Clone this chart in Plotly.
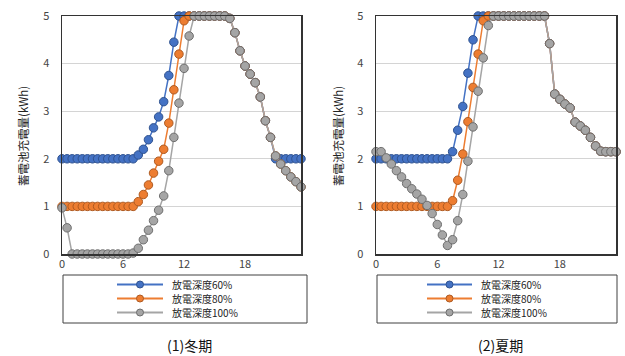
import plotly.graph_objects as go

W, H = 625, 356

hours = [i * 0.5 for i in range(48)]
x_ticks = [0, 6, 12, 18]
y_ticks = [0, 1, 2, 3, 4, 5]
series_names = ["放電深度60%", "放電深度80%", "放電深度100%"]
panel_titles = ["(1)冬期", "(2)夏期"]
y_title = "蓄電池充電量(kWh)"

# shared evening discharge paths (17:00 - 23:30)
winter_decline = [4.65, 4.27, 3.95, 3.78, 3.60, 3.30, 2.80, 2.45, 2.06, 1.89, 1.75, 1.62, 1.52, 1.41]
summer_decline = [4.42, 3.36, 3.25, 3.15, 3.07, 2.77, 2.69, 2.60, 2.45, 2.27, 2.16, 2.15, 2.15, 2.15]

winter_60 = ([2.0] * 15 + [2.08, 2.2, 2.4, 2.65, 2.88, 3.2, 3.75, 4.45]
             + [5.0] * 10 + [4.95]
             + [4.65, 4.27, 3.95, 3.78, 3.60, 3.30, 2.80, 2.45, 2.0, 2.0, 2.0, 2.0, 2.0, 2.0])
winter_80 = ([1.0] * 15 + [1.1, 1.25, 1.45, 1.7, 1.95, 2.2, 2.75, 3.45, 4.2, 4.9]
             + [5.0] * 8 + [4.95] + winter_decline)
winter_100 = ([0.97, 0.55] + [0.0] * 12
              + [0.02, 0.12, 0.3, 0.5, 0.7, 0.92, 1.22, 1.75, 2.45, 3.17, 3.9, 4.58]
              + [5.0] * 7 + [4.95] + winter_decline)

summer_60 = ([2.0] * 15 + [2.15, 2.6, 3.1, 3.8, 4.5]
             + [5.0] * 14 + summer_decline)
summer_80 = ([1.0] * 15 + [1.12, 1.55, 2.1, 2.78, 3.5, 4.2, 4.9]
             + [5.0] * 12 + summer_decline)
summer_100 = ([2.15, 2.15, 2.02, 1.89, 1.75, 1.62, 1.48, 1.37, 1.26, 1.15, 1.02, 0.85, 0.62, 0.40, 0.18]
              + [0.3, 0.7, 1.25, 1.95, 2.67, 3.42, 4.12, 4.8]
              + [5.0] * 11 + summer_decline)

fills = ["#4472C4", "#ED7D31", "#A5A5A5"]
edges = ["#2F528F", "#AE5A21", "#6E6E6E"]

FONT = "Noto Sans CJK JP"


def px_x(p):
    return p / W


def px_y(p):
    return 1 - p / H


fig = go.Figure()

panels = [
    ([winter_60, winter_80, winter_100], "x", "y"),
    ([summer_60, summer_80, summer_100], "x2", "y2"),
]
for data, xa, ya in panels:
    for k, vals in enumerate(data):
        fig.add_trace(go.Scatter(
            x=hours, y=vals, mode="lines+markers", name=series_names[k],
            xaxis=xa, yaxis=ya, cliponaxis=False, showlegend=False,
            line=dict(color=fills[k], width=1.5),
            marker=dict(size=8.5, color=fills[k], line=dict(color=edges[k], width=1)),
        ))

axis_common_x = dict(range=[0, 23.5], tickvals=x_ticks, showgrid=False, zeroline=False,
                     showline=True, mirror=True, linecolor="#333333", linewidth=1.5,
                     ticks="", ticklabelstandoff=-1,
                     tickfont=dict(family=FONT, size=11, color="#444444"),
                     automargin=False, fixedrange=True)
axis_common_y = dict(range=[0, 5], tickvals=y_ticks, showgrid=True, gridcolor="#D4D4D4", gridwidth=1,
                     zeroline=False, showline=True, mirror=True, linecolor="#333333", linewidth=1.5,
                     ticks="", ticklabelstandoff=9,
                     tickfont=dict(family=FONT, size=11, color="#444444"),
                     automargin=False, fixedrange=True)

y_dom = [px_y(254), px_y(16)]
fig.update_layout(
    width=W, height=H,
    margin=dict(l=0, r=0, t=0, b=0),
    paper_bgcolor="white", plot_bgcolor="white",
    font=dict(family=FONT, size=10, color="#222222"),
    xaxis=dict(domain=[px_x(62), px_x(301)], anchor="y", **axis_common_x),
    yaxis=dict(domain=y_dom, anchor="x", **axis_common_y),
    xaxis2=dict(domain=[px_x(376), px_x(616)], anchor="y2", **axis_common_x),
    yaxis2=dict(domain=y_dom, anchor="x2", **axis_common_y),
    showlegend=False,
    hovermode=False,
)

# legend boxes (frames with line+marker keys and labels)
legend_specs = [
    (63, 307, 117, 163, 171),
    (377, 617, 427, 472, 480),
]
row_y = [284.5, 298.5, 312.5]
for bx0, bx1, lx0, lx1, tx in legend_specs:
    fig.add_shape(type="rect", xref="paper", yref="paper",
                  x0=px_x(bx0), x1=px_x(bx1), y0=px_y(323), y1=px_y(275),
                  line=dict(color="#404040", width=1), fillcolor="rgba(0,0,0,0)")
    for k in range(3):
        yy = px_y(row_y[k])
        fig.add_shape(type="line", xref="paper", yref="paper",
                      x0=px_x(lx0), x1=px_x(lx1), y0=yy, y1=yy,
                      line=dict(color=fills[k], width=2))
        cx = (lx0 + lx1) / 2
        r = 3.5
        fig.add_shape(type="circle", xref="paper", yref="paper",
                      x0=px_x(cx - r), x1=px_x(cx + r),
                      y0=px_y(row_y[k] + r), y1=px_y(row_y[k] - r),
                      line=dict(color=edges[k], width=1), fillcolor=fills[k])
        fig.add_annotation(text=series_names[k], xref="paper", yref="paper",
                           x=px_x(tx), y=yy, xanchor="left", yanchor="middle",
                           showarrow=False, borderpad=0,
                           font=dict(family=FONT, size=10, color="#222222"))

# axis titles
for xc in [23, 338]:
    fig.add_annotation(text=y_title, xref="paper", yref="paper", x=px_x(xc), y=px_y(136),
                       xanchor="center", yanchor="middle",
                       showarrow=False, textangle=-90, font=dict(family=FONT, size=11.5, color="#222222"))

# panel titles
for xc, t in zip([189, 500], panel_titles):
    fig.add_annotation(text=t, xref="paper", yref="paper", x=px_x(xc), y=px_y(345),
                       xanchor="center", yanchor="middle",
                       showarrow=False, font=dict(family=FONT, size=14, color="#111111"))

fig.write_html("out.html", config={"displayModeBar": False, "staticPlot": True},
               post_script="document.body.style.margin='0';")
